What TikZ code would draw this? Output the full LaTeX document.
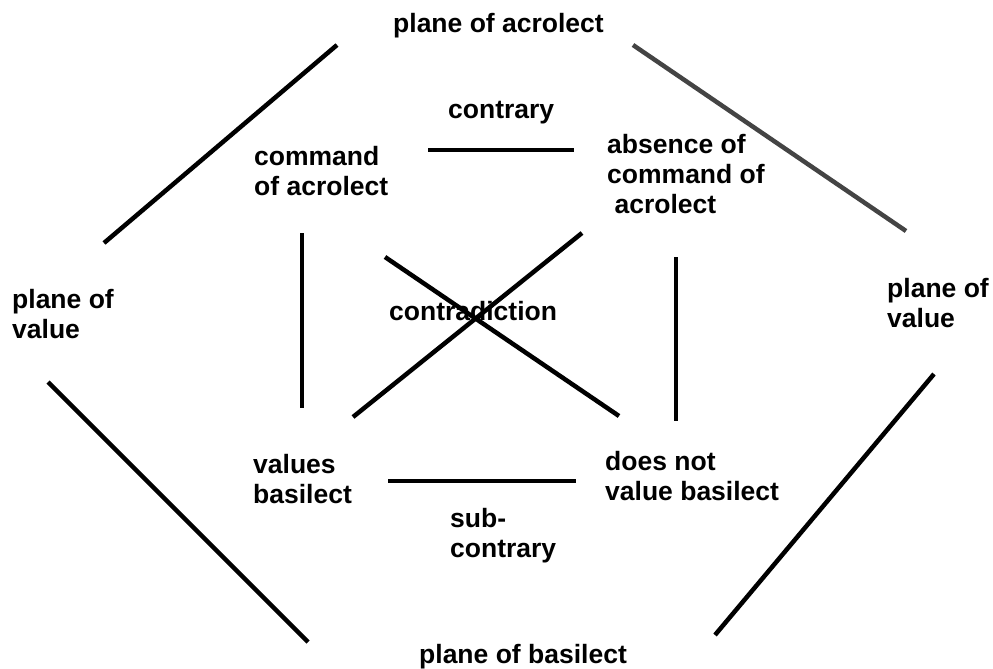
\documentclass[tikz,border=0pt]{standalone}
\usepackage{fontspec}
\setmainfont{Liberation Sans}
\begin{document}
\begin{tikzpicture}[x=1pt,y=-1pt,
  lbl/.style={anchor=base west,inner sep=0pt,align=left,font=\bfseries\fontsize{26.5}{30}\selectfont},
  seg/.style={line width=4.5pt,black},
  grayseg/.style={line width=4.5pt,draw={rgb,255:red,68;green,68;blue,68}}]
\useasboundingbox (0,0) rectangle (993,669);
% labels (base anchor = baseline of the last line)
\node[lbl] (pa) at (393,33) {plane of acrolect};
\node[lbl] (ctr) at (448,118) {contrary};
\node[lbl] (ca) at (254,195) {command\\of acrolect};
\node[lbl] (aca) at (607,213) {absence of\\command of\\ \ acrolect};
\node[lbl] (pvl) at (12,338) {plane of\\value};
\node[lbl] (pvr) at (887,327) {plane of\\value};
\node[lbl] (cd) at (389,320) {contradiction};
\node[lbl] (vb) at (253,503) {values\\basilect};
\node[lbl] (dnv) at (605,500) {does not\\value basilect};
\node[lbl] (sc) at (450,557) {sub-\\contrary};
\node[lbl] (pb) at (419,663) {plane of basilect};
% segment end points
\coordinate (tl1) at (104,243); \coordinate (tl2) at (337,45);
\coordinate (tr1) at (633,45);  \coordinate (tr2) at (906,231);
\coordinate (bl1) at (48,382);  \coordinate (bl2) at (308,642);
\coordinate (br1) at (715,635); \coordinate (br2) at (934,374);
\coordinate (ct1) at (428,150); \coordinate (ct2) at (574,150);
\coordinate (lv1) at (302,233); \coordinate (lv2) at (302,408);
\coordinate (rv1) at (676,257); \coordinate (rv2) at (676,421);
\coordinate (d11) at (385,257); \coordinate (d12) at (619,416);
\coordinate (d21) at (353,417); \coordinate (d22) at (582,233);
\coordinate (sc1) at (388,481); \coordinate (sc2) at (576,481);
% segments
\draw[seg] (tl1) -- (tl2);
\draw[grayseg] (tr1) -- (tr2);
\draw[seg] (bl1) -- (bl2);
\draw[seg] (br1) -- (br2);
\draw[seg] (ct1) -- (ct2);
\draw[seg] (lv1) -- (lv2);
\draw[seg] (rv1) -- (rv2);
\draw[seg] (d11) -- (d12);
\draw[seg] (d21) -- (d22);
\draw[seg] (sc1) -- (sc2);
\end{tikzpicture}
\end{document}
